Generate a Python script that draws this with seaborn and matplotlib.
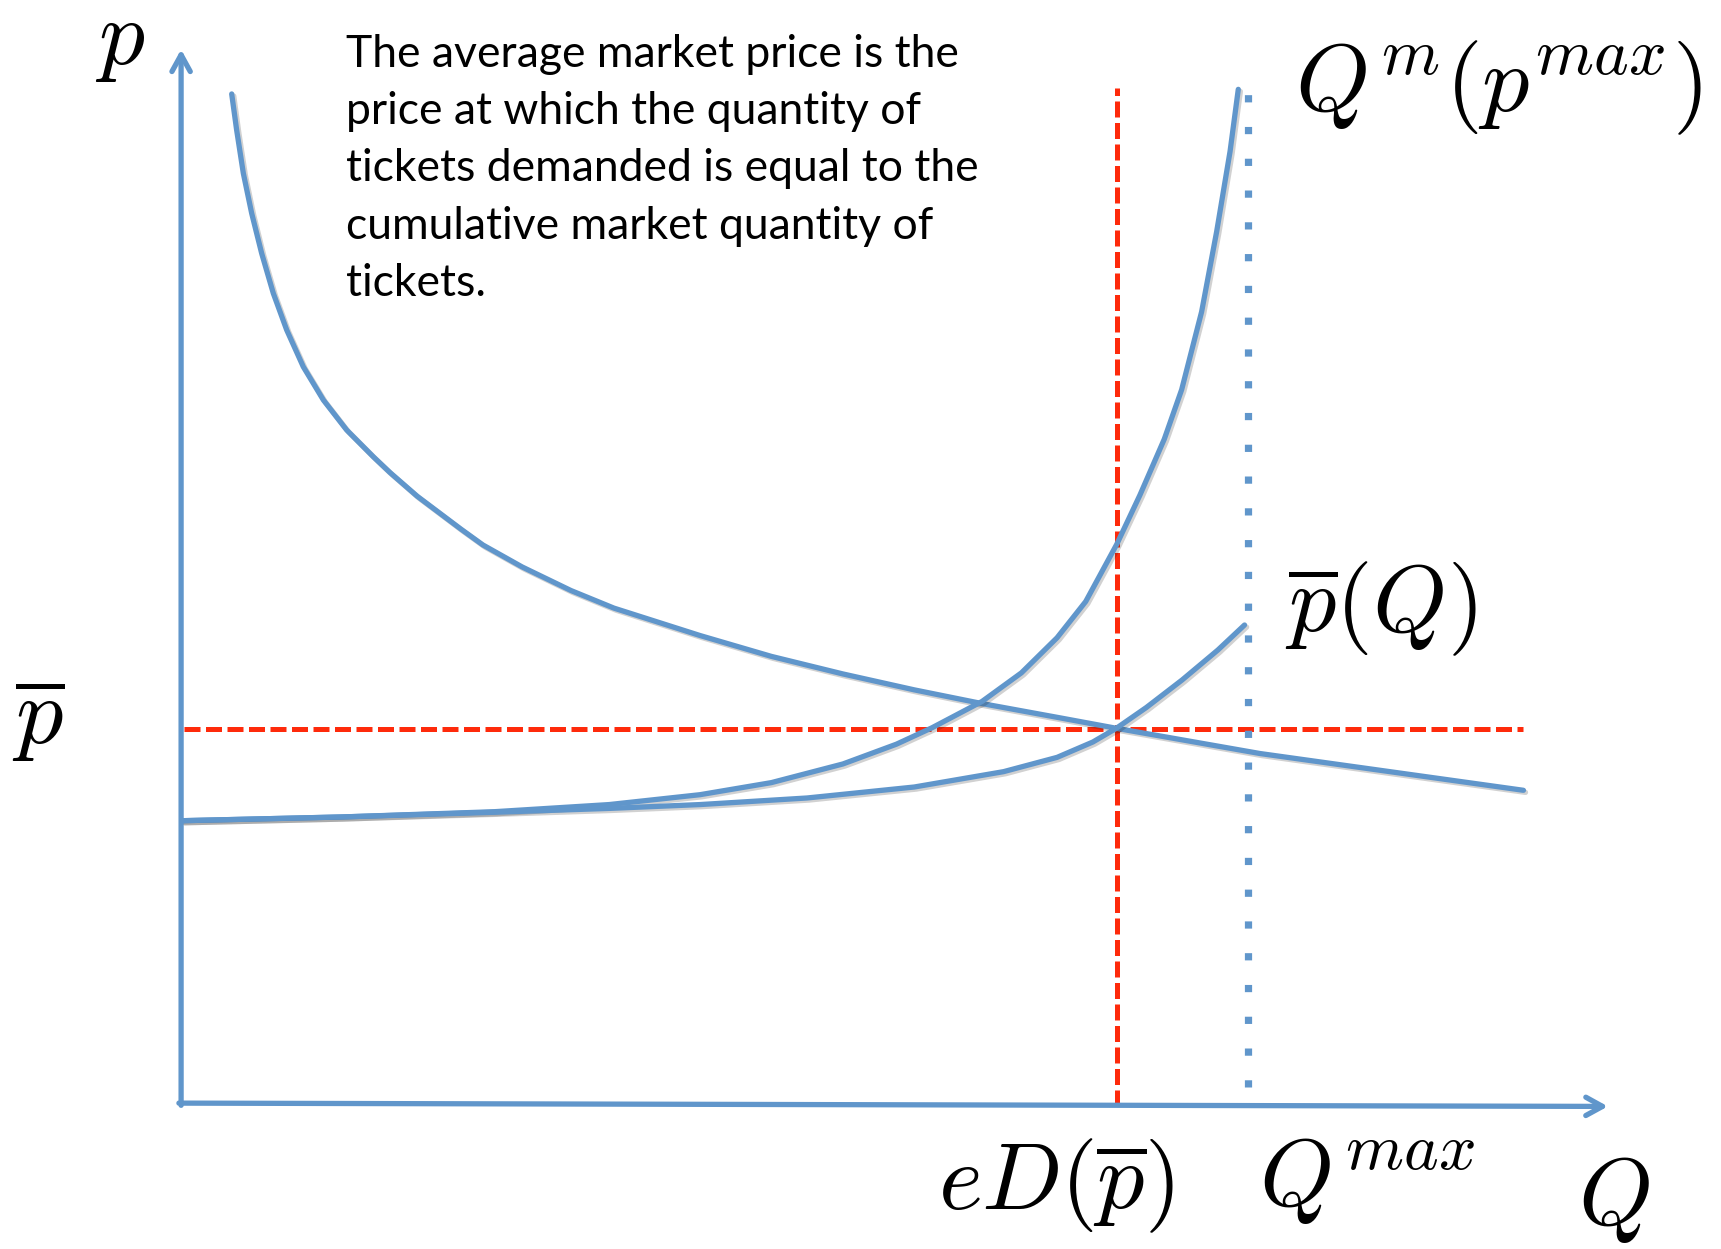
import numpy as np
import pandas as pd
import matplotlib
matplotlib.use("Agg")
import matplotlib.pyplot as plt
import matplotlib.patheffects as pe
import seaborn as sns

# ------------------------------
# data
# ------------------------------
# market demand curve
demand_q = [0.461, 0.506, 0.567, 0.643, 0.734, 0.840, 0.962, 1.113, 1.296, 1.508, 1.751, 1.903,
            2.15, 2.549, 2.75, 3.107, 3.552, 3.943, 4.728, 5.378, 6.030, 6.680, 7.298, 7.981,
            8.521, 9.830, 12.23]
demand_p = [9.194, 8.866, 8.471, 8.107, 7.742, 7.378, 7.044, 6.709, 6.406, 6.133, 5.889, 5.745,
            5.53, 5.23, 5.085, 4.885, 4.67, 4.51, 4.26, 4.07, 3.91, 3.765, 3.64, 3.515,
            3.415, 3.185, 2.85]

# Q^m(p^max) curve
qm_q = [0.013, 1.46, 2.854, 3.90, 4.728, 5.378, 6.030, 6.517, 6.842, 7.298, 7.656, 7.981,
        8.242, 8.524, 8.736, 8.958, 9.116, 9.298, 9.435, 9.557, 9.632]
qm_p = [2.573, 2.607, 2.655, 2.72, 2.81, 2.92, 3.09, 3.27, 3.42, 3.66, 3.92, 4.24,
        4.57, 5.09, 5.54, 6.05, 6.50, 7.21, 7.94, 8.67, 9.236]

# average price curve p_bar(Q)
pbar_q = [0.013, 1.46, 2.854, 3.90, 4.728, 5.703, 6.680, 7.494, 7.981, 8.307, 8.521, 8.795,
          9.120, 9.446, 9.689]
pbar_p = [2.573, 2.607, 2.65, 2.685, 2.72, 2.78, 2.88, 3.02, 3.15, 3.29, 3.415, 3.605,
          3.855, 4.128, 4.356]

p_bar = 3.413     # average market price
eD_q = 8.525      # eD(p_bar)
q_max = 9.723     # Q^max

note = ("The average market price is the\n"
        "price at which the quantity of\n"
        "tickets demanded is equal to the\n"
        "cumulative market quantity of\n"
        "tickets.")

BLUE = "#6096cb"
RED = "#fe2a0b"

sns.set_theme(style="white")
plt.rcParams["mathtext.fontset"] = "cm"

fig = plt.figure(figsize=(17.21, 12.49), dpi=100)
ax = fig.add_axes([0, 0, 1, 1])
ax.set_xlim(-1.65, 14.03)
ax.set_ylim(-1.329, 10.05)
ax.axis("off")

shadow = [pe.SimpleLineShadow(offset=(1.5, -1.5), alpha=0.2), pe.Normal()]

# red dashed guides
ax.plot([0.03, 12.23], [p_bar, p_bar], color=RED, lw=3.6, ls=(0, (3.2, 1.1)), zorder=2)
ax.plot([eD_q, eD_q], [-0.03, 9.247], color=RED, lw=3.6, ls=(0, (3.2, 1.1)), zorder=2)
# blue dotted Q^max
ax.plot([q_max, q_max], [0.15, 9.257], color=BLUE, lw=5.2, ls=(0, (1, 3.4)), zorder=2)

# curves
curves = [(demand_q, demand_p), (qm_q, qm_p), (pbar_q, pbar_p)]
for xs, ys in curves:
    df = pd.DataFrame({"Q": xs, "p": ys})
    sns.lineplot(data=df, x="Q", y="p", sort=False, estimator=None,
                 color=BLUE, lw=3.8, ax=ax, zorder=3)
    ax.lines[-1].set_path_effects(shadow)
    ax.lines[-1].set_solid_joinstyle("round")

# axes arrows
arrow_kw = dict(arrowstyle="->,head_length=1.0,head_width=0.55", color=BLUE, lw=3.8,
                shrinkA=0, shrinkB=0)
ax.annotate("", xy=(0, 9.60), xytext=(0, -0.02), arrowprops=arrow_kw)
ax.annotate("", xy=(13.0, -0.03), xytext=(-0.02, 0), arrowprops=arrow_kw)

# labels
lab = dict(fontsize=68, ha="center", va="center", color="black")
ax.text(-0.56, 9.47, r"$p$", fontsize=66, ha="center", va="baseline", color="black")
ax.text(-1.30, 3.50, r"$\overline{p}$", **lab)
ax.text(12.0, 9.25, r"$Q^m(p^{max})$", **lab)
ax.text(10.93, 4.50, r"$\overline{p}(Q)$", **lab)
ax.text(7.97, -0.75, r"$eD(\overline{p})$", **lab)
ax.text(10.80, -0.70, r"$Q^{max}$", **lab)
ax.text(13.05, -0.87, r"$Q$", **lab)

ax.text(1.50, 9.74, note, fontsize=32, family="Lato", ha="left", va="top",
        linespacing=1.49, color="black")

fig.savefig("out.png", dpi=100)
